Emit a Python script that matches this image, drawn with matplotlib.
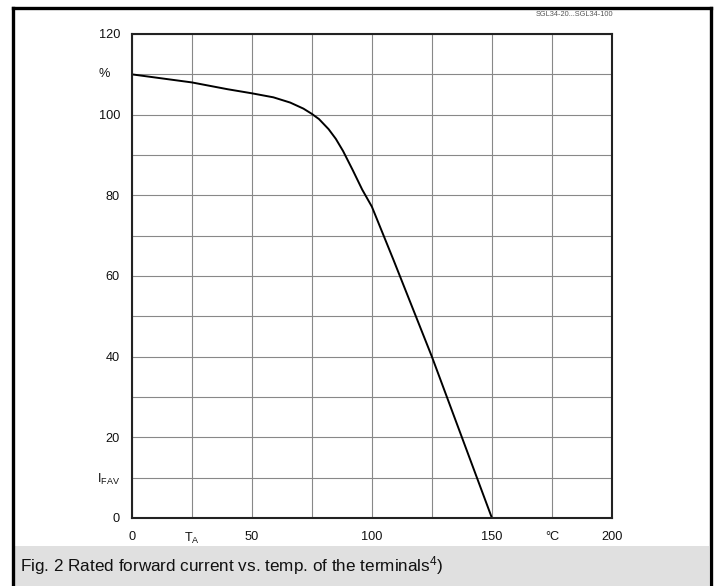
"""
Rated forward current vs. terminal temperature (SGL34 datasheet, fig. 2).
"""

import matplotlib

matplotlib.use("Agg")
import matplotlib.pyplot as plt
from matplotlib.lines import Line2D
from matplotlib.patches import Rectangle

plt.rcParams["font.family"] = ["Liberation Sans", "DejaVu Sans"]
plt.rcParams["mathtext.fontset"] = "custom"
plt.rcParams["mathtext.rm"] = "Liberation Sans"
plt.rcParams["mathtext.it"] = "Liberation Sans"

# curve
temp_c = [0, 25, 40, 50, 59, 66, 71.5, 75, 78, 82, 85, 88, 92, 96, 100, 109, 125, 137.5, 150]
ifav_pct = [110, 108, 106.3, 105.3, 104.3, 103, 101.5, 100.2, 98.9, 96.4, 94.0, 91.0, 86.3, 81.4, 77.2, 64, 40, 20, 0]

x_ticks = [0, 25, 50, 75, 100, 125, 150, 175, 200]
x_labels = ["0", "T$_\\mathrm{A}$", "50", "", "100", "", "150", "°C", "200"]
y_ticks = [0, 10, 20, 30, 40, 50, 60, 70, 80, 90, 100, 110, 120]
y_labels = ["0", "I$_\\mathrm{FAV}$", "20", "", "40", "", "60", "", "80", "", "100", "", "120"]

W, H = 718, 586
fig = plt.figure(figsize=(W / 100, H / 100), dpi=100)

# page frame and caption strip (pixel coords -> figure fraction)
def fx(px):
    return px / W

def fy(py):
    return 1 - py / H

fig.patches.append(Rectangle((fx(14), fy(586)), fx(695), 40 / H, transform=fig.transFigure,
                             facecolor="#e0e0e0", edgecolor="none"))
for xs, ys in [([12.5, 12.5], [586, 7.5]), ([12.5, 710.5], [7.5, 7.5]), ([710.5, 710.5], [7.5, 586])]:
    fig.lines.append(Line2D([fx(v) for v in xs], [fy(v) for v in ys], transform=fig.transFigure,
                            color="black", linewidth=2.4, solid_capstyle="projecting"))

fig.text(fx(20), fy(566), "Fig. 2 Rated forward current vs. temp. of the terminals$^{4}$)",
         fontsize=12.3, va="center", ha="left", color="#111111")
fig.text(fx(613), fy(14.5), "SGL34-20...SGL34-100", fontsize=5.3, ha="right", va="center", color="#555555")

ax = fig.add_axes([fx(131.7), fy(518), fx(612) - fx(131.7), fy(34) - fy(518)])
ax.plot(temp_c, ifav_pct, color="black", linewidth=1.4)

ax.set_xlim(0, 200)
ax.set_ylim(0, 120)
ax.set_xticks(x_ticks)
ax.set_xticklabels(x_labels)
ax.set_yticks(y_ticks)
ax.set_yticklabels(y_labels)
ax.tick_params(length=0, labelsize=9.2, colors="#111111")
ax.tick_params(axis="x", pad=9)
ax.tick_params(axis="y", pad=8.5)
ax.grid(True, color="#888888", linewidth=0.8)
ax.set_axisbelow(True)
for s in ax.spines.values():
    s.set_linewidth(1.5)
    s.set_color("#222222")

# "%" sits left-aligned in the tick label column
ax.text(-14, 110, "%", fontsize=9.2, ha="left", va="center", color="#111111")

fig.savefig("out.png", dpi=100)
